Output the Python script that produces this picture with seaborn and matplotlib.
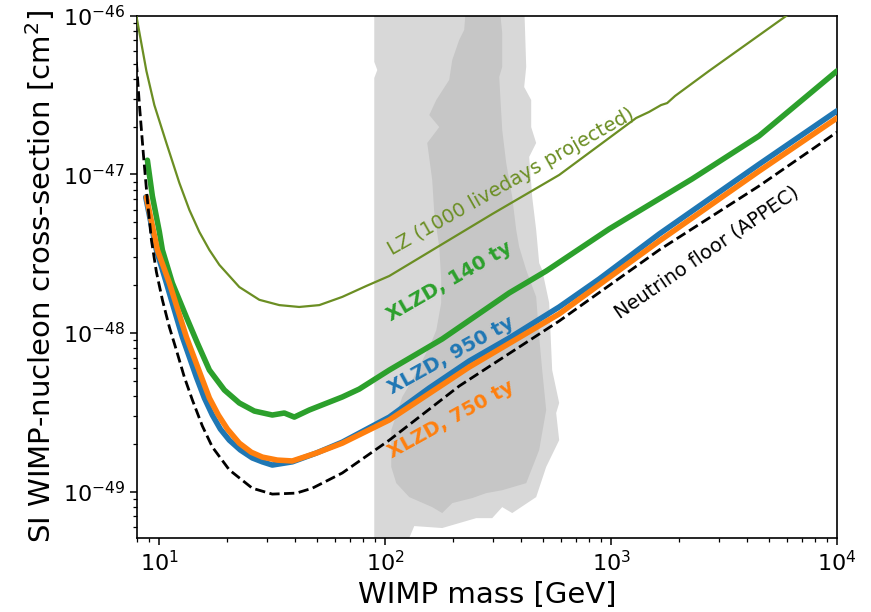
import matplotlib.pyplot as plt
import seaborn as sns

# WIMP mass [GeV] and SI cross-section [cm^2]
lz_mass = [7.91, 8.76, 9.5, 10.74, 12.26, 13.58, 15.03, 16.65, 18.43, 22.59, 27.7,
           33.96, 41.6, 51.05, 64.53, 82.4, 104.2, 297.5, 588.8, 1290, 1472, 1663, 1770,
           1920, 2714, 6133]
lz_xsec = [1.0e-46, 4.5e-47, 2.74e-47, 1.58e-47, 8.84e-48, 5.97e-48, 4.34e-48, 3.34e-48,
           2.69e-48, 1.95e-48, 1.62e-48, 1.5e-48, 1.46e-48, 1.5e-48, 1.69e-48, 1.98e-48,
           2.29e-48, 5.63e-48, 9.93e-48, 2.27e-47, 2.48e-47, 2.74e-47, 2.82e-47, 3.13e-47,
           4.5e-47, 1.03e-46]

x140_mass = [8.85, 9.31, 10.0, 10.31, 11.41, 13.17, 14.73, 16.65, 19.4, 22.59, 26.33,
             31.62, 35.74, 39.57, 46.1, 64.53, 76.7, 104.2, 178.7, 353.8, 515.7, 980,
             2283, 4517, 10000]
x140_xsec = [1.23e-47, 7.31e-48, 4.34e-48, 3.34e-48, 2.07e-48, 1.26e-48, 8.65e-49, 5.84e-49,
             4.37e-49, 3.62e-49, 3.22e-49, 3.04e-49, 3.13e-49, 2.95e-49, 3.27e-49, 3.95e-49,
             4.43e-49, 5.84e-49, 9.17e-49, 1.79e-48, 2.46e-48, 4.53e-48, 9.37e-48, 1.75e-47,
             4.5e-47]

x950_mass = [8.7, 9.7, 10.74, 12.64, 14.58, 15.82, 17.16, 18.62, 20.4, 22.82, 25.79, 28.57,
             31.62, 38.77, 49.52, 64.53, 104.2, 156.6, 235.3, 353.8, 588.8, 885, 1631,
             4517, 10000]
x950_xsec = [7.2e-48, 3.34e-48, 2.07e-48, 9.44e-49, 5.28e-49, 3.89e-49, 3.04e-49, 2.48e-49,
             2.11e-49, 1.83e-49, 1.63e-49, 1.54e-49, 1.47e-49, 1.54e-49, 1.75e-49, 2.05e-49,
             2.95e-49, 4.5e-49, 6.66e-49, 9.3e-49, 1.46e-48, 2.19e-48, 4.21e-48, 1.16e-47,
             2.52e-47]

x750_mass = [8.76, 9.8, 11.07, 13.17, 15.35, 16.65, 18.24, 20.0, 22.59, 25.53, 28.57,
             33.27, 38.77, 49.52, 64.53, 104.2, 235.3, 588.8, 1631, 4517, 10000]
x750_xsec = [7.2e-48, 3.34e-48, 2.07e-48, 9.44e-49, 5.28e-49, 3.89e-49, 3.04e-49, 2.48e-49,
             2.02e-49, 1.77e-49, 1.65e-49, 1.58e-49, 1.56e-49, 1.75e-49, 2.02e-49, 2.83e-49,
             6.1e-49, 1.32e-48, 3.8e-48, 1.05e-47, 2.27e-47]

nu_mass = [7.91, 8.16, 8.5, 8.85, 9.22, 9.7, 10.31, 11.07, 11.89, 12.9, 14.0, 15.5, 17.16,
           20.4, 25.79, 31.62, 40.37, 47.53, 64.53, 104.2, 212.5, 588.8, 1631, 4517, 10000]
nu_xsec = [5.13e-47, 2.74e-47, 1.33e-47, 6.9e-48, 3.86e-48, 2.43e-48, 1.62e-48, 1.09e-48,
           7.81e-49, 5.27e-49, 3.78e-49, 2.59e-49, 1.91e-49, 1.37e-49, 1.05e-49, 9.64e-50,
           9.78e-50, 1.05e-49, 1.31e-49, 2.11e-49, 4.63e-49, 1.19e-48, 3.34e-48, 8.46e-48,
           1.85e-47]

# model regions (outer = light grey, inner = dark grey)
outer_mass = [89.4, 89.4, 92.2, 89.4, 89.4, 118.9, 134.4, 178.7, 252.8, 297.5, 329.4,
              364.8, 465.7, 515.7, 588.8, 571.0, 588.8, 548.2, 531.7, 495.1, 480.2,
              465.7, 447.2, 433.7, 465.7, 442.6, 442.6, 412.1, 420.7, 412.1]
outer_xsec = [1.2e-46, 5.13e-47, 4.56e-47, 4.06e-47, 4.0e-50, 4.0e-50, 6.06e-50, 5.89e-50,
              6.8e-50, 6.8e-50, 7.98e-50, 7.32e-50, 9.23e-50, 1.43e-49, 2.11e-49, 3.13e-49,
              3.62e-49, 5.84e-49, 1.55e-48, 2.5e-48, 2.76e-48, 4.47e-48, 7.21e-48, 1.29e-47,
              1.58e-47, 1.99e-47, 2.95e-47, 3.56e-47, 4.77e-47, 1.2e-46]

inner_mass = [228.2, 223.6, 212.5, 198.0, 191.9, 168.2, 156.6, 173.4, 153.4, 161.4, 164.8,
              173.4, 176.9, 176.9, 168.2, 156.6, 131.7, 118.9, 106.3, 106.3, 111.9, 127.7,
              161.4, 178.7, 198.0, 242.7, 279.9, 329.4, 420.7, 480.2, 515.7, 495.1, 480.2,
              465.7, 420.7, 391.7, 379.9, 364.8, 343.1, 329.4, 319.5, 329.4, 329.4, 319.5]
inner_xsec = [1.2e-46, 8.16e-47, 7.06e-47, 5.28e-47, 3.95e-47, 2.95e-47, 2.37e-47, 1.99e-47,
              1.58e-47, 9.23e-48, 5.71e-48, 3.49e-48, 2.16e-48, 1.55e-48, 1.04e-48, 8.16e-49,
              5.05e-49, 3.95e-49, 2.44e-49, 1.43e-49, 1.13e-49, 9.23e-50, 7.98e-50, 7.32e-50,
              8.46e-50, 9.1e-50, 9.78e-50, 1.02e-49, 1.13e-49, 1.83e-49, 3.27e-49, 5.84e-49,
              9.44e-49, 1.69e-48, 2.5e-48, 3.49e-48, 4.47e-48, 7.21e-48, 1.18e-47, 1.91e-47,
              4.12e-47, 4.77e-47, 7.81e-47, 1.2e-46]

x_ticks = [10, 100, 1000, 10000]
y_ticks = [1e-49, 1e-48, 1e-47, 1e-46]

sns.set_theme(style="ticks")
plt.rcParams['font.family'] = ['DejaVu Sans']
plt.rcParams['mathtext.fontset'] = 'dejavusans'
plt.rcParams['text.color'] = 'black'
plt.rcParams['axes.labelcolor'] = 'black'
plt.rcParams['xtick.color'] = 'black'
plt.rcParams['ytick.color'] = 'black'

fig, ax = plt.subplots(figsize=(8.71, 6.12), dpi=100)
fig.subplots_adjust(left=0.157, right=0.961, top=0.974, bottom=0.121)
ax.set_xscale('log')
ax.set_yscale('log')

ax.fill(outer_mass, outer_xsec, color='#d8d8d8', lw=0, zorder=1)
ax.fill(inner_mass, inner_xsec, color='#c6c6c6', lw=0, zorder=1)

sns.lineplot(x=lz_mass, y=lz_xsec, ax=ax, color='#6b8e23', linewidth=1.6, zorder=3)
sns.lineplot(x=x140_mass, y=x140_xsec, ax=ax, color='#2ca02c', linewidth=4, zorder=3)
sns.lineplot(x=x950_mass, y=x950_xsec, ax=ax, color='#1f77b4', linewidth=4, zorder=3)
sns.lineplot(x=x750_mass, y=x750_xsec, ax=ax, color='#ff7f0e', linewidth=4, zorder=3)
sns.lineplot(x=nu_mass, y=nu_xsec, ax=ax, color='black', linewidth=2, linestyle='--', zorder=4)

# curve labels
ax.text(361, 8.97e-48, 'LZ (1000 livedays projected)', color='#6b8e23', fontsize=14,
        rotation=29.5, rotation_mode='anchor', ha='center', va='center')
ax.text(192, 2.10e-48, 'XLZD, 140 ty', color='#2ca02c', fontsize=14, fontweight='bold',
        rotation=30, rotation_mode='anchor', ha='center', va='center')
ax.text(196, 7.26e-49, 'XLZD, 950 ty', color='#1f77b4', fontsize=14, fontweight='bold',
        rotation=29, rotation_mode='anchor', ha='center', va='center')
ax.text(196, 2.83e-49, 'XLZD, 750 ty', color='#ff7f0e', fontsize=14, fontweight='bold',
        rotation=29, rotation_mode='anchor', ha='center', va='center')
ax.text(2660, 3.24e-48, 'Neutrino floor (APPEC)', color='black', fontsize=14,
        rotation=34.5, rotation_mode='anchor', ha='center', va='center')

ax.set_xticks(x_ticks)
ax.set_yticks(y_ticks)
ax.set_xlim(7.94, 1e4)
ax.set_ylim(5.1e-50, 1e-46)
ax.set_xlabel('WIMP mass [GeV]', fontsize=21)
ax.set_ylabel('SI WIMP-nucleon cross-section [cm$^2$]', fontsize=21)
ax.tick_params(which='major', labelsize=16, length=5, width=1.1, direction='out')
ax.tick_params(which='minor', length=3, width=0.9, direction='out')
for sp in ax.spines.values():
    sp.set_linewidth(1.2)
    sp.set_color('black')

plt.savefig('out.png', dpi=100)
